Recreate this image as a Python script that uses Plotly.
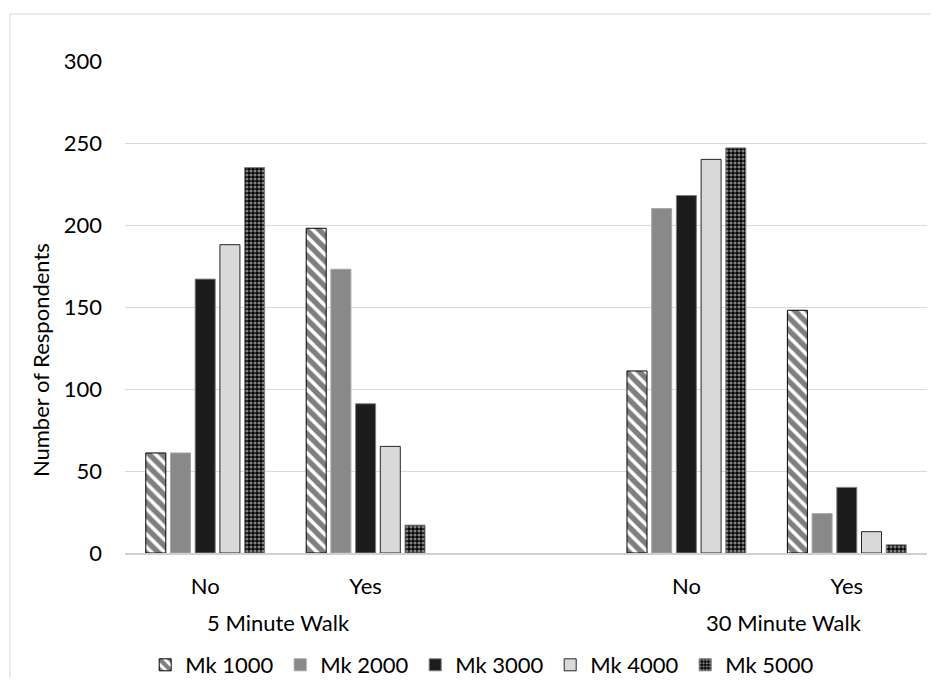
import plotly.graph_objects as go

categories = ["No", "Yes", "", "No", "Yes"]
slot_positions = [0, 1, 2, 3, 4]
used_slots = [0, 1, 3, 4]
group_labels = ["5 Minute Walk", "30 Minute Walk"]
group_label_x = [0.455, 3.61]

series_names = ["Mk 1000", "Mk 2000", "Mk 3000", "Mk 4000", "Mk 5000"]
mk1000 = [61, 198, 111, 148]
mk2000 = [61, 173, 210, 24]
mk3000 = [167, 91, 218, 40]
mk4000 = [188, 65, 240, 13]
mk5000 = [235, 17, 247, 5]
series_values = [mk1000, mk2000, mk3000, mk4000, mk5000]

y_ticks = [0, 50, 100, 150, 200, 250, 300]

FONT = "Lato"
FS = 22

styles = [
    dict(color="white", line=dict(color="#000000", width=1),
         pattern=dict(shape="\\", fgcolor="#000000", bgcolor="white", size=9, solidity=0.6)),
    dict(color="#898989", line=dict(color="#a6a6a6", width=1)),
    dict(color="#1c1c1c", line=dict(color="#7f7f7f", width=1)),
    dict(color="#d9d9d9", line=dict(color="#262626", width=1)),
    dict(color="black", line=dict(color="#7f7f7f", width=1),
         pattern=dict(shape=".", fgcolor="white", bgcolor="black", size=4, solidity=0.5)),
]

fig = go.Figure()
for name, vals, st in zip(series_names, series_values, styles):
    fig.add_trace(go.Bar(
        x=used_slots, y=vals, name=name,
        marker=st,
    ))

# page adds an 8px body margin, so the figure is sized to fit the window
fig.update_layout(
    width=923, height=670,
    margin=dict(l=117, r=4, t=53, b=125),
    paper_bgcolor="white", plot_bgcolor="white",
    font=dict(family=FONT, size=FS, color="#000000"),
    barmode="group", bargap=0.23, bargroupgap=0.19,
    showlegend=True,
    legend=dict(orientation="h", xref="paper", x=0.446, xanchor="center",
                yref="container", y=0.0194, yanchor="middle",
                font=dict(family=FONT, size=FS), entrywidth=90, traceorder="normal"),
    xaxis=dict(
        tickmode="array", tickvals=slot_positions, ticktext=categories,
        range=[-0.5, 4.5], showgrid=False, zeroline=False,
        showline=True, linecolor="#d0d0d0", linewidth=2,
        ticks="", ticklabelstandoff=13,
    ),
    yaxis=dict(
        range=[0, 300], tickvals=y_ticks, showgrid=True, gridcolor="#d9d9d9", gridwidth=1,
        zeroline=False, showline=False, ticks="", ticklabelstandoff=22,
    ),
)

for lbl, gx in zip(group_labels, group_label_x):
    fig.add_annotation(x=gx, xref="x", y=-0.1407, yref="paper", text=lbl,
                       showarrow=False, xanchor="center", yanchor="middle",
                       font=dict(family=FONT, size=FS))

fig.add_annotation(x=-0.106, xref="paper", y=0.392, yref="paper", text="Number of Respondents",
                   textangle=-90, showarrow=False, xanchor="center", yanchor="middle",
                   font=dict(family=FONT, size=FS))

fig.add_shape(type="rect", xref="paper", yref="paper",
              x0=-0.1434, x1=1.0137, y0=-0.4, y1=1.0955,
              line=dict(color="#d9d9d9", width=1), fillcolor="rgba(0,0,0,0)", layer="below")

fig.write_html("out.html")
